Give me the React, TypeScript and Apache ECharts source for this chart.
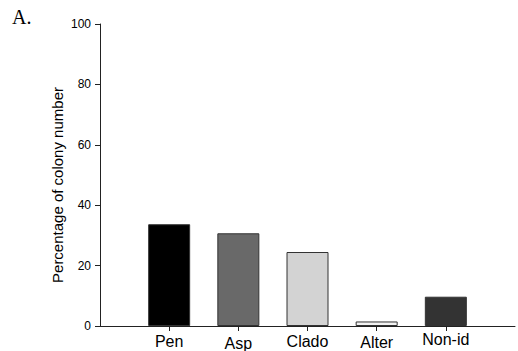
import React, { useEffect, useRef } from "react";
import * as echarts from "echarts";

const categories = ["Pen", "Asp", "Clado", "Alter", "Non-id"];
const values = [33.7, 30.7, 24.5, 1.5, 9.7];
const barColors = ["#000000", "#696969", "#d3d3d3", "#f2f2f2", "#333333"];
const labelDrops = [2, 4, 2, 3, 0];
const yTicks = [0, 20, 40, 60, 80, 100];

export default function App() {
  const ref = useRef<HTMLDivElement>(null);
  useEffect(() => {
    if (!ref.current) return;
    const chart = echarts.init(ref.current, null, { renderer: "svg" });
    const axisData = ["", ...categories, ""];
    const seriesData: any[] = ["-"];
    values.forEach((v, i) =>
      seriesData.push({ value: v, itemStyle: { color: barColors[i] } })
    );
    seriesData.push("-");
    const rich: any = {};
    labelDrops.forEach((d, i) => {
      rich["d" + i] = {
        padding: [d, 0, 0, 0],
        fontSize: 16,
        fontFamily: "Liberation Sans, Arial, sans-serif",
        color: "#000",
      };
    });
    chart.setOption({
      animation: false,
      backgroundColor: "#ffffff",
      grid: { left: 100, right: -2, top: 24, bottom: 25, containLabel: false },
      xAxis: {
        type: "category",
        data: axisData,
        boundaryGap: false,
        axisLine: { lineStyle: { color: "#222", width: 1 } },
        axisTick: { show: true, length: 5, lineStyle: { color: "#222" }, alignWithLabel: true,
          interval: (idx: number) => idx > 0 && idx <= categories.length },
        axisLabel: {
          interval: 0,
          color: "#000",
          fontFamily: "Liberation Sans, Arial, sans-serif",
          fontSize: 16,
          margin: 5,
          formatter: (v: string, idx: number) => {
            const i = categories.indexOf(v);
            return i >= 0 ? `{d${i}|${v}}` : "";
          },
          rich,
        },
        splitLine: { show: false },
      },
      yAxis: {
        type: "value",
        min: yTicks[0],
        max: yTicks[yTicks.length - 1],
        interval: 20,
        axisLine: { show: true, lineStyle: { color: "#222", width: 1 } },
        axisTick: { show: true, length: 5, lineStyle: { color: "#222" } },
        axisLabel: {
          color: "#000",
          fontFamily: "Liberation Sans, Arial, sans-serif",
          fontSize: 12,
          margin: 9,
        },
        splitLine: { show: false },
      },
      graphic: [
        {
          type: "text",
          x: 12,
          y: 7,
          style: {
            text: "A.",
            fontFamily: "Liberation Serif, Times New Roman, serif",
            fontSize: 20,
            fill: "#000",
          },
        },
        {
          type: "text",
          x: 57,
          y: 185,
          rotation: Math.PI / 2,
          style: {
            text: "Percentage of colony number",
            fontFamily: "Liberation Sans, Arial, sans-serif",
            fontSize: 15,
            fill: "#000",
            align: "center",
            verticalAlign: "middle",
          },
        },
      ],
      series: [
        {
          type: "bar",
          data: seriesData,
          barWidth: 42,
          itemStyle: { borderColor: "#333", borderWidth: 1 },
        },
      ],
    });
    return () => chart.dispose();
  }, []);
  return <div ref={ref} style={{ width: 518, height: 351, position: "absolute", left: 0, top: 0 }} />;
}
